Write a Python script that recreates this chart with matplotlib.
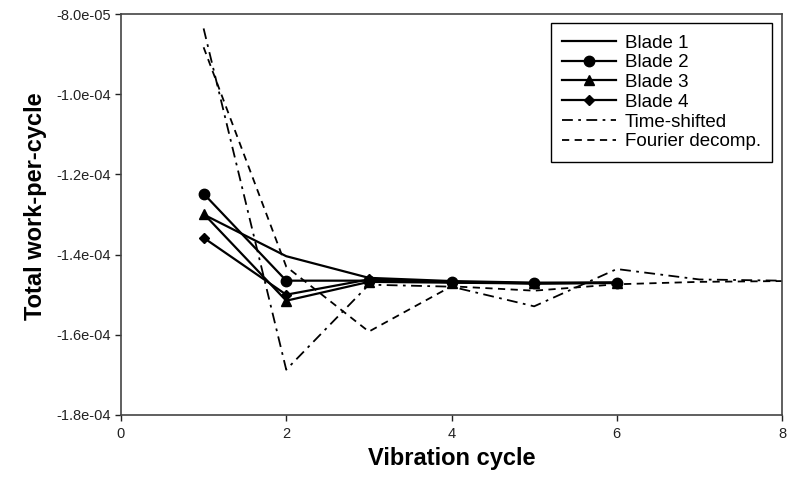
import numpy as np
import matplotlib.pyplot as plt
from matplotlib.ticker import FuncFormatter, MultipleLocator

cycles_blade = [1, 2, 3, 4, 5, 6]
blade1 = [-1.30e-4, -1.404e-4, -1.458e-4, -1.466e-4, -1.470e-4, -1.470e-4]
blade2 = [-1.248e-4, -1.465e-4, -1.465e-4, -1.468e-4, -1.472e-4, -1.470e-4]
blade3 = [-1.298e-4, -1.515e-4, -1.468e-4, -1.470e-4, -1.472e-4, -1.471e-4]
blade4 = [-1.358e-4, -1.500e-4, -1.462e-4, -1.469e-4, -1.471e-4, -1.470e-4]

cycles_all = [1, 2, 3, 4, 5, 6, 7, 8]
time_shifted = [-8.36e-5, -1.687e-4, -1.475e-4, -1.480e-4, -1.529e-4, -1.436e-4, -1.462e-4, -1.465e-4]
fourier = [-8.83e-5, -1.430e-4, -1.592e-4, -1.479e-4, -1.490e-4, -1.474e-4, -1.468e-4, -1.466e-4]

plt.rcParams['font.family'] = ['Liberation Sans', 'DejaVu Sans']

fig = plt.figure(figsize=(7.87, 4.83), dpi=100)
ax = fig.add_axes([0.1537, 0.1408, 0.84, 0.8302])

ax.plot(cycles_blade, blade1, color='black', lw=1.6, label='Blade 1')
ax.plot(cycles_blade, blade2, color='black', lw=1.6, marker='o', ms=7.5, label='Blade 2')
ax.plot(cycles_blade, blade3, color='black', lw=1.6, marker='^', ms=7.5, label='Blade 3')
ax.plot(cycles_blade, blade4, color='black', lw=1.6, marker='D', ms=5, label='Blade 4')
ax.plot(cycles_all, time_shifted, color='black', lw=1.3, ls=(0, (6, 3, 1.5, 3)), label='Time-shifted')
ax.plot(cycles_all, fourier, color='black', lw=1.3, ls=(0, (4, 3)), label='Fourier decomp.')

ax.set_xlim(0, 8)
ax.set_ylim(-1.8e-4, -8.0e-5)
ax.xaxis.set_major_locator(MultipleLocator(2))
ax.yaxis.set_major_locator(MultipleLocator(2e-5))
ax.yaxis.set_major_formatter(FuncFormatter(lambda v, p: '%.1e' % v))
ax.tick_params(direction='out', length=4, width=1, labelsize=10.5, colors='#222222')
ax.tick_params(axis='x', pad=5)

for s in ax.spines.values():
    s.set_color('#444444')
    s.set_linewidth(1.2)

ax.set_xlabel('Vibration cycle', fontsize=17, fontweight='bold', labelpad=4)
ax.set_ylabel('Total work-per-cycle', fontsize=17, fontweight='bold')
ax.yaxis.set_label_coords(-0.112, 0.52)

leg = ax.legend(loc='upper right', bbox_to_anchor=(0.981, 0.952),
                bbox_transform=fig.transFigure, fontsize=13.5,
                handlelength=2.9, labelspacing=0.14, borderpad=0.6,
                handletextpad=0.45, borderaxespad=0, fancybox=False, framealpha=1)
leg.get_frame().set_edgecolor('black')
leg.get_frame().set_linewidth(1.0)

fig.savefig('out.png', dpi=100)
